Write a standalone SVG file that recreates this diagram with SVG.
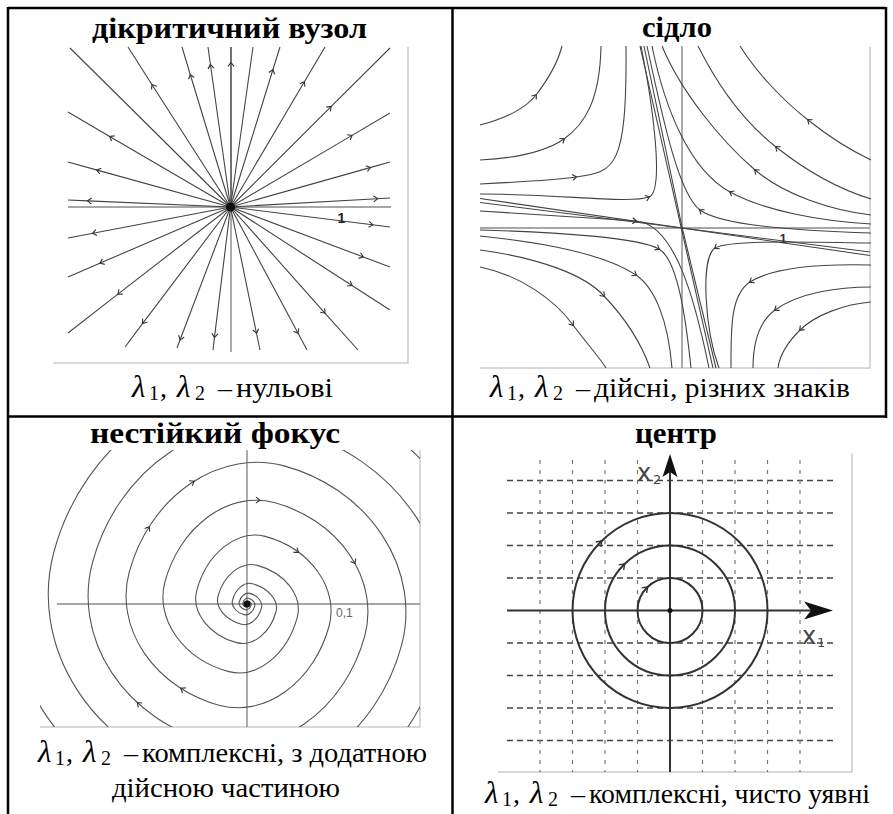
<svg xmlns="http://www.w3.org/2000/svg" xmlns:xlink="http://www.w3.org/1999/xlink" width="893" height="814" viewBox="0 0 893 814">
<style>
.cell{stroke:#000;stroke-width:2.5;fill:none}
.frame{stroke:#ccc;stroke-width:1.5;fill:none}
.axis{stroke:#888;stroke-width:1.4;fill:none}
.ray{fill:none;stroke:#444;stroke-width:1.1;marker-mid:url(#ar)}
.plain{fill:none;stroke:#444;stroke-width:1.1}
.sp{fill:none;stroke:#555;stroke-width:1.1}
.title{font-family:"Liberation Serif",serif;font-weight:bold;font-size:30px}
.cap{font-family:"Liberation Serif",serif;font-size:28px}
.lam{font-family:"Liberation Serif",serif;font-style:italic;font-size:31px}
.sub{font-family:"Liberation Serif",serif;font-size:20px}
.hg{stroke:#444;stroke-width:1.3;stroke-dasharray:6 4;fill:none}
.vg{stroke:#777;stroke-width:1.2;stroke-dasharray:4 6;fill:none}
.circ{stroke:#333;stroke-width:2;fill:none}
.lbl{font-family:"DejaVu Sans",sans-serif;fill:#444}
</style>
<defs>
<marker id="ar" viewBox="-5 -5 10 10" refX="0" refY="0" markerWidth="10" markerHeight="10" markerUnits="userSpaceOnUse" orient="auto">
<path d="M-3.5,-3 L0.5,0 L-3.5,3" fill="none" stroke="#333" stroke-width="1.1"/>
</marker>
<path id="ch" d="M-3.5,-3 L0.5,0 L-3.5,3" fill="none" stroke="#333" stroke-width="1.1"/>
<path id="ch4" d="M-4,-3.5 L1,0 L-4,3.5" fill="none" stroke="#333" stroke-width="1.4"/>
<clipPath id="clip3"><rect x="40" y="450" width="380" height="277"/></clipPath>
</defs>
<rect x="0" y="0" width="893" height="814" fill="#fff"/>

<g id="table">
<line class="cell" x1="8" y1="8" x2="886" y2="8"/>
<line class="cell" x1="8" y1="7" x2="8" y2="814"/>
<line class="cell" x1="452.5" y1="7" x2="452.5" y2="814"/>
<line class="cell" x1="886" y1="7" x2="886" y2="418"/>
<line class="cell" x1="7" y1="416.5" x2="887" y2="416.5"/>
</g>

<g id="cell-node">
<text class="title" x="92" y="38" textLength="275" lengthAdjust="spacingAndGlyphs">дікритичний вузол</text>
<polyline class="frame" points="53,363 408,363 408,47"/>
<line class="axis" x1="68" y1="207" x2="391" y2="207"/>
<line class="axis" x1="231" y1="47" x2="231" y2="352"/>
<g id="rays">
<path class="plain" d="M230.5,207 L70,48"/>
<path class="ray" d="M230.5,207 L152.2,85 L128,47"/>
<path class="ray" d="M230.5,207 L190.4,75 L182,47"/>
<path class="ray" d="M230.5,207 L210.5,65 L208,47"/>
<path class="ray" d="M231,207 L231,63 L231,47"/>
<path class="plain" d="M230.5,207 L253,47"/>
<path class="ray" d="M230.5,207 L272.8,70 L280,47"/>
<path class="ray" d="M230.5,207 L304.1,82.2 L325,47"/>
<path class="ray" d="M230.5,207 L330.8,106.8 L390,48"/>
<path class="ray" d="M230.5,207 L110.1,136.7 L68,112"/>
<path class="ray" d="M230.5,207 L97.2,170.1 L68,162"/>
<path class="ray" d="M230.5,207 L88,200.9 L68,200"/>
<path class="ray" d="M230.5,207 L93,233.2 L68,238"/>
<path class="ray" d="M230.5,207 L100.4,263 L68,277"/>
<path class="ray" d="M230.5,207 L118.2,293.9 L68,333"/>
<path class="ray" d="M230.5,207 L142.9,323.2 L125,347"/>
<path class="ray" d="M230.5,207 L180.2,339.5 L177,348"/>
<path class="ray" d="M230.5,207 L214.5,337.1 L213,350"/>
<path class="ray" d="M230.5,207 L256.4,332.8 L260,350"/>
<path class="ray" d="M230.5,207 L297.8,332.8 L307,350"/>
<path class="ray" d="M230.5,207 L324.7,312.8 L358,350"/>
<path class="ray" d="M230.5,207 L351.6,285.3 L390,310"/>
<path class="ray" d="M230.5,207 L362.8,256.8 L390,267"/>
<path class="ray" d="M230.5,207 L372.4,224.8 L390,227"/>
<path class="ray" d="M230.5,207 L377.2,198.7 L390,198"/>
<path class="ray" d="M230.5,207 L370,167.6 L390,162"/>
<path class="ray" d="M230.5,207 L351.6,135.6 L390,113"/>
</g>
<circle cx="230.5" cy="207" r="4.5" fill="#111"/>
<text x="341.5" y="223" font-family="Liberation Sans, sans-serif" font-weight="bold" font-size="14" text-anchor="middle" fill="#222">1</text>
<g id="cap-node">
<text class="lam" x="132" y="397">λ</text><text class="sub" x="149" y="400">1</text><text class="cap" x="160" y="397">,</text>
<text class="lam" x="177" y="397">λ</text><text class="sub" x="195" y="400">2</text><text class="cap" x="218" y="397">–</text>
<text class="cap" x="236" y="397" textLength="97" lengthAdjust="spacingAndGlyphs">нульові</text>
</g>
</g>

<g id="cell-saddle">
<text class="title" x="642" y="37" textLength="70" lengthAdjust="spacingAndGlyphs">сідло</text>
<polyline class="frame" points="480,368 870,368 870,47"/>
<line class="axis" x1="682" y1="46" x2="682" y2="368"/>
<line class="axis" x1="480" y1="228" x2="870" y2="228"/>
<g id="separatrices">
<path class="plain" d="M640,46 L713,368"/>
<path class="plain" d="M644,46 L682,227 L716,368"/>
<path class="plain" d="M480,198.5 L870,255.5"/>
<path class="plain" d="M480,202.5 L682,228 L870,252"/>
</g>
<g id="trajectories">
<path class="ray" d="M480,125 C505,119 526,108 536,95 C546,82 557,66 562,46"/>
<path class="ray" d="M480,160 C520,158 548,150 564,139 C585,124 600,100 601,46"/>
<path class="ray" d="M480,184 C520,182 556,180 576,177 C615,172 627,168 626,46"/>
<path class="ray" d="M480,194 C560,194 630,204 649,197 C665,191 652,100 641,46"/>
<path class="ray" d="M871,160 C850,150 828,136 808,120 C780,98 755,70 740,46"/>
<path class="ray" d="M871,199 C835,188 800,166 776,147 C748,125 720,90 698,46"/>
<path class="ray" d="M871,215 C830,210 785,195 755,170 C720,140 680,90 662,46"/>
<path class="ray" d="M871,224 C820,221 765,211 730,192 C690,170 665,110 652,46"/>
<path class="ray" d="M871,233 C800,231 720,225 700,210 C680,195 665,130 647,46"/>
<path class="ray" d="M480,211 C560,216 610,219 636,221 C675,224 695,300 709,368"/>
<path class="ray" d="M480,230 C560,232 640,238 659,249 C678,260 686,320 691,368"/>
<path class="ray" d="M480,236 C560,244 610,258 636,275 C655,288 668,320 672,368"/>
<path class="ray" d="M480,250 C540,258 585,275 604,296 C625,318 640,340 650,368"/>
<path class="ray" d="M480,267 C520,275 555,300 573,325 C588,345 600,358 606,368"/>
<path class="ray" d="M871,243 C800,242 728,240 715,248 C700,258 705,330 719,368"/>
<path class="ray" d="M871,265 C830,264 775,266 750,282 C730,295 731,330 731,368"/>
<path class="ray" d="M871,287 C840,287 800,292 775,310 C760,321 753,340 753,368"/>
<path class="ray" d="M871,302 C845,304 815,315 800,330 C790,340 780,352 778,368"/>
</g>
<text x="783" y="243" font-family="Liberation Sans, sans-serif" font-weight="bold" font-size="13" text-anchor="middle" fill="#333">1</text>
<g id="cap-saddle">
<text class="lam" x="490" y="397">λ</text><text class="sub" x="507" y="400">1</text><text class="cap" x="518" y="397">,</text>
<text class="lam" x="535" y="397">λ</text><text class="sub" x="553" y="400">2</text><text class="cap" x="576" y="397">–</text>
<text class="cap" x="594" y="397" textLength="256" lengthAdjust="spacingAndGlyphs">дійсні, різних знаків</text>
</g>
</g>

<g id="cell-focus">
<text class="title" x="90" y="443" textLength="250" lengthAdjust="spacingAndGlyphs">нестійкий фокус</text>
<polyline class="frame" points="40,727 420,727 420,450"/>
<line class="axis" x1="57" y1="604" x2="420" y2="604"/>
<line class="axis" x1="247" y1="450" x2="247" y2="727"/>
<g clip-path="url(#clip3)">
<g transform="translate(247,604) rotate(15)">
<path class="sp" d="M0,-1.6 A2.2,1.6 0 0 1 2.2,0 A2.2,3.1 0 0 1 0,3.1 A4.3,3.1 0 0 1 -4.3,0 A4.3,6 0 0 1 0,-6 A8,6 0 0 1 8,0 A8,11 0 0 1 0,11 A15,11 0 0 1 -15,0 A15,21 0 0 1 0,-21 A30,21 0 0 1 30,0 A30,40 0 0 1 0,40 A52,40 0 0 1 -52,0 A52,70 0 0 1 0,-70 A85,70 0 0 1 85,0 A85,105 0 0 1 0,105 A122,105 0 0 1 -122,0 A122,143 0 0 1 0,-143 A160,143 0 0 1 160,0 A160,180 0 0 1 0,180 A200,180 0 0 1 -200,0 A200,220 0 0 1 0,-220 A240,220 0 0 1 240,0"/>
<path class="sp" d="M0,1.6 A2.2,1.6 0 0 1 -2.2,0 A2.2,3.1 0 0 1 0,-3.1 A4.3,3.1 0 0 1 4.3,0 A4.3,6 0 0 1 0,6 A8,6 0 0 1 -8,0 A8,11 0 0 1 0,-11 A15,11 0 0 1 15,0 A15,21 0 0 1 0,21 A30,21 0 0 1 -30,0 A30,40 0 0 1 0,-40 A52,40 0 0 1 52,0 A52,70 0 0 1 0,70 A85,70 0 0 1 -85,0 A85,105 0 0 1 0,-105 A122,105 0 0 1 122,0 A122,143 0 0 1 0,143 A160,143 0 0 1 -160,0 A160,180 0 0 1 0,-180 A200,180 0 0 1 200,0 A200,220 0 0 1 0,220 A240,220 0 0 1 -240,0"/>
<use xlink:href="#ch" href="#ch" transform="translate(-83.2,-104.6) rotate(-47.5)"/>
<use xlink:href="#ch" href="#ch" transform="translate(-114.6,-48.9) rotate(-72.8)"/>
<use xlink:href="#ch" href="#ch" transform="translate(-14.8,-103.4) rotate(-12.3)"/>
<use xlink:href="#ch" href="#ch" transform="translate(35.9,-63.4) rotate(21)"/>
<use xlink:href="#ch" href="#ch" transform="translate(93.5,-67.5) rotate(45.7)"/>
<use xlink:href="#ch" href="#ch" transform="translate(-41.7,98.7) rotate(-162.6)"/>
<use xlink:href="#ch" href="#ch" transform="translate(-80,123.8) rotate(-152.7)"/>
</g>
</g>
<circle cx="247" cy="604" r="3.5" fill="#111"/>
<text x="336" y="617" font-family="Liberation Sans, sans-serif" font-size="12" fill="#666">0,1</text>
<g id="cap-focus">
<text class="lam" x="38" y="762">λ</text><text class="sub" x="55" y="765">1</text><text class="cap" x="66" y="762">,</text>
<text class="lam" x="83" y="762">λ</text><text class="sub" x="101" y="765">2</text><text class="cap" x="124" y="762">–</text>
<text class="cap" x="142" y="762" textLength="285" lengthAdjust="spacingAndGlyphs">комплексні, з додатною</text>
<text class="cap" x="112" y="797" textLength="228" lengthAdjust="spacingAndGlyphs">дійсною частиною</text>
</g>
</g>

<g id="cell-center">
<text class="title" x="635" y="443" textLength="82" lengthAdjust="spacingAndGlyphs">центр</text>
<polyline class="frame" points="498,772 852,772 852,453"/>
<g id="grid">
<line class="hg" x1="507" y1="480.5" x2="833" y2="480.5"/>
<line class="hg" x1="507" y1="513" x2="833" y2="513"/>
<line class="hg" x1="507" y1="545.5" x2="833" y2="545.5"/>
<line class="hg" x1="507" y1="578" x2="833" y2="578"/>
<line class="hg" x1="507" y1="643" x2="833" y2="643"/>
<line class="hg" x1="507" y1="675.5" x2="833" y2="675.5"/>
<line class="hg" x1="507" y1="708" x2="833" y2="708"/>
<line class="hg" x1="507" y1="740.5" x2="833" y2="740.5"/>
<line class="vg" x1="540" y1="460" x2="540" y2="772"/>
<line class="vg" x1="572.5" y1="460" x2="572.5" y2="772"/>
<line class="vg" x1="605" y1="460" x2="605" y2="772"/>
<line class="vg" x1="637.5" y1="460" x2="637.5" y2="772"/>
<line class="vg" x1="702.5" y1="460" x2="702.5" y2="772"/>
<line class="vg" x1="735" y1="460" x2="735" y2="772"/>
<line class="vg" x1="767.5" y1="460" x2="767.5" y2="772"/>
<line class="vg" x1="800" y1="460" x2="800" y2="772"/>
</g>
<line x1="507" y1="610.5" x2="812" y2="610.5" stroke="#333" stroke-width="2"/>
<line x1="670" y1="772" x2="670" y2="472" stroke="#333" stroke-width="2"/>
<path d="M833,610.5 L804,601.5 L811,610.5 L804,619.5 Z" fill="#111"/>
<path d="M670,454 L662.5,477 L670,472 L677.5,477 Z" fill="#111"/>
<circle class="circ" cx="670" cy="610.5" r="32.5"/>
<circle class="circ" cx="670" cy="610.5" r="65"/>
<circle class="circ" cx="670" cy="610.5" r="97.5"/>
<use xlink:href="#ch4" href="#ch4" transform="translate(601.1,541.6) rotate(-45)"/>
<use xlink:href="#ch4" href="#ch4" transform="translate(624,564.5) rotate(-45)"/>
<use xlink:href="#ch4" href="#ch4" transform="translate(647,587.5) rotate(-45)"/>
<circle cx="670" cy="610.5" r="2.5" fill="#111"/>
<text class="lbl" x="637" y="481" font-size="24">x</text><text class="lbl" x="653" y="484" font-size="13">2</text>
<text class="lbl" x="802" y="644" font-size="24">x</text><text class="lbl" x="817" y="647" font-size="13">1</text>
<g id="cap-center">
<text class="lam" x="485" y="803">λ</text><text class="sub" x="502" y="806">1</text><text class="cap" x="513" y="803">,</text>
<text class="lam" x="530" y="803">λ</text><text class="sub" x="548" y="806">2</text><text class="cap" x="571" y="803">–</text>
<text class="cap" x="589" y="803" textLength="281" lengthAdjust="spacingAndGlyphs">комплексні, чисто уявні</text>
</g>
</g>
</svg>
